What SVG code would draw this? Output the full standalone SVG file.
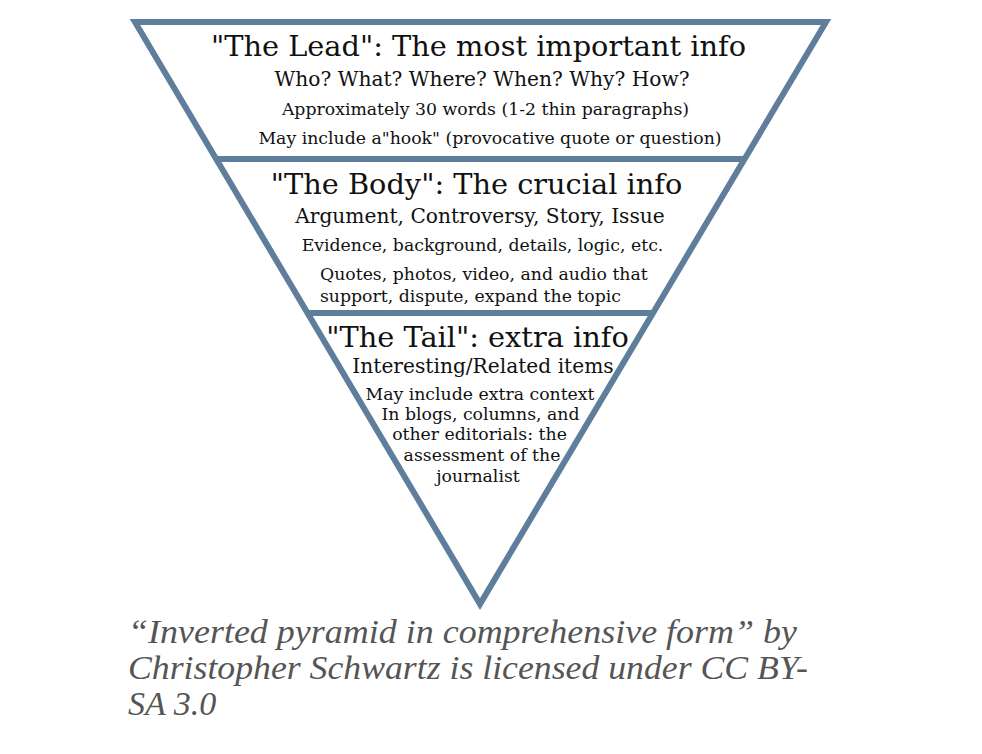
<svg xmlns="http://www.w3.org/2000/svg" width="982" height="754" viewBox="0 0 982 754">
<style>
.t{font-family:"DejaVu Serif",serif;fill:#111;text-anchor:middle}
.h{font-size:28.8px}
.m{font-size:20.2px}
.s{font-size:17.3px}
.edge{stroke:#5f7e9c;stroke-width:6;fill:none;stroke-linejoin:miter}
.cap{font-family:"Liberation Serif",serif;font-style:italic;font-size:34px;fill:#555}
</style>
<rect width="982" height="754" fill="#fff"/>
<g id="pyramid">
<polygon class="edge" points="135,22 826,22 480,604"/>
<line class="edge" x1="216" y1="159" x2="744" y2="159"/>
<line class="edge" x1="307" y1="313" x2="653" y2="313"/>
</g>
<g id="lead">
<text class="t h" x="478.5" y="56">"The Lead": The most important info</text>
<text class="t m" x="482" y="86">Who? What? Where? When? Why? How?</text>
<text class="t s" x="485.5" y="115">Approximately 30 words (1-2 thin paragraphs)</text>
<text class="t s" x="490" y="144">May include a"hook" (provocative quote or question)</text>
</g>
<g id="body">
<text class="t h" x="476.5" y="194">"The Body": The crucial info</text>
<text class="t m" x="480" y="223">Argument, Controversy, Story, Issue</text>
<text class="t s" x="482.5" y="251">Evidence, background, details, logic, etc.</text>
<text class="t s" x="320" y="280" style="text-anchor:start">Quotes, photos, video, and audio that</text>
<text class="t s" x="320" y="302" style="text-anchor:start">support, dispute, expand the topic</text>
</g>
<g id="tail">
<text class="t h" x="477.5" y="347">"The Tail": extra info</text>
<text class="t m" x="483" y="373">Interesting/Related items</text>
<text class="t s" x="480" y="400">May include extra context</text>
<text class="t s" x="480.5" y="420">In blogs, columns, and</text>
<text class="t s" x="479.5" y="440">other editorials: the</text>
<text class="t s" x="482" y="461">assessment of the</text>
<text class="t s" x="478" y="482">journalist</text>
</g>
<g id="caption">
<text class="cap" x="128" y="643" textLength="669" lengthAdjust="spacingAndGlyphs">“Inverted pyramid in comprehensive form” by</text>
<text class="cap" x="128" y="679" textLength="680" lengthAdjust="spacingAndGlyphs">Christopher Schwartz is licensed under CC BY-</text>
<text class="cap" x="128" y="715">SA 3.0</text>
</g>
</svg>
